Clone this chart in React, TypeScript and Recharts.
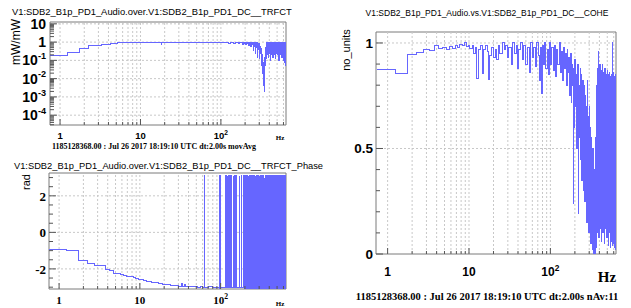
import React from 'react';
import { LineChart, Line, XAxis, YAxis, ReferenceLine, ReferenceArea } from 'recharts';

const BLUE = '#6666ff';
const GRID = '#c8c8c8';
const FRAME = '#7a7a7a';
const TICK = '#555';
const SANS = '"Liberation Sans", Arial, sans-serif';
const SERIF = '"Liberation Serif", "Times New Roman", serif';

// frequency ticks (Hz)
const xMajor = [1, 10, 100];
const xMinor = [2, 3, 4, 5, 6, 7, 8, 9, 20, 30, 40, 50, 60, 70, 80, 90, 200, 300, 400, 500, 600];
const xTicks = [...xMajor, ...xMinor].sort((a, b) => a - b);

// y ticks
const magMajor = [1e-4, 1e-3, 1e-2, 0.1, 1, 10];
const minorMult = [2, 3, 4, 5, 6, 7, 8, 9];
const phaseMajor = [-2, 0, 2];
const phaseMinor = [-3, -2.5, -1.5, -1, -0.5, 0.5, 1, 1.5, 2.5, 3];
const coheMajor = [0, 0.5, 1];
const coheMinor = [0.1, 0.2, 0.3, 0.4, 0.6, 0.7, 0.8, 0.9];

// 200..640 Hz, shared by the three panels
const hiFreq = [
  200, 204, 208, 212, 216, 220, 224, 228, 232, 236,
  240, 244, 248, 252, 256, 260, 264, 268, 272, 276,
  280, 284, 288, 292, 296, 300, 304, 308, 312, 316,
  320, 324, 328, 332, 336, 340, 344, 348, 352, 356,
  360, 364, 368, 372, 376, 380, 384, 388, 392, 396,
  400, 404, 408, 412, 416, 420, 424, 428, 432, 436,
  440, 444, 448, 452, 456, 460, 464, 468, 472, 476,
  480, 484, 488, 492, 496, 500, 504, 508, 512, 516,
  520, 524, 528, 532, 536, 540, 544, 548, 552, 556,
  560, 564, 568, 572, 576, 580, 584, 588, 592, 596,
  600, 604, 608, 612, 616, 620, 624, 628, 632, 636,
  640,
];

// transfer function magnitude (mW/mW)
const magFreqLo = [
  0.75, 1.25, 1.75, 2.25, 2.75, 3.25, 3.75, 4.25, 4.75, 5.25,
  5.75, 6.25, 6.75, 7.25, 7.75, 8.25, 8.75, 9.25, 9.75, 10.25,
  11, 12, 12.5, 13, 14, 15, 16, 17, 18, 18.5,
  19, 20, 22, 24, 26, 28, 30, 33, 36, 40,
  44, 48, 52, 56, 60, 65, 70, 75, 80, 85,
  90, 95, 100, 105, 110, 115, 120, 125, 130, 135,
  140, 145, 150, 155, 160, 165, 170, 175, 180, 185,
  190, 195,
];
const magLo = [
  0.18, 0.27, 0.46, 0.62, 0.64, 0.76, 0.78, 0.8, 0.82, 0.95,
  0.96, 0.95, 0.97, 0.98, 0.97, 0.99, 0.98, 1.0, 0.99, 1.0,
  0.99, 1.01, 0.92, 1.0, 0.98, 1.0, 0.99, 1.0, 0.74, 0.98,
  1.0, 0.99, 1.0, 0.97, 1.0, 0.98, 1.0, 0.96, 1.0, 0.98,
  1.0, 0.95, 1.0, 0.97, 0.99, 0.95, 1.0, 0.96, 0.99, 0.93,
  1.0, 0.97, 0.98, 0.9, 1.0, 0.94, 0.99, 0.88, 1.0, 0.93,
  0.97, 0.86, 1.0, 0.9, 0.96, 0.82, 1.0, 0.9, 0.95, 0.78,
  0.98, 0.88,
];
const magHi = [
  0.95, 0.7, 1.0, 0.85, 0.97, 0.65, 0.92, 0.85, 0.98, 0.55,
  0.9, 0.75, 0.96, 0.35, 0.88, 0.6, 0.93, 0.25, 0.85, 0.5,
  0.9, 0.15, 0.8, 0.4, 0.85, 0.12, 0.6, 0.25, 0.45, 0.08,
  0.3, 0.05, 0.2, 0.02, 0.08, 0.004, 0.002, 0.02, 0.15, 0.05,
  0.5, 0.12, 0.9, 0.2, 0.85, 0.3, 0.95, 0.15, 0.8, 0.35,
  0.92, 0.25, 0.88, 0.1, 0.95, 0.3, 0.85, 0.2, 0.9, 0.4,
  0.97, 0.15, 0.82, 0.3, 0.9, 0.22, 0.86, 0.35, 0.93, 0.12,
  0.8, 0.3, 0.9, 0.25, 0.85, 0.4, 0.95, 0.2, 0.82, 0.3,
  0.9, 0.1, 0.85, 0.35, 0.92, 0.25, 0.8, 0.3, 0.95, 0.2,
  0.88, 0.4, 0.9, 0.15, 0.85, 0.3, 0.93, 0.22, 0.8, 0.35,
  0.9, 0.1, 0.86, 0.3, 0.95, 0.08, 0.85, 0.25, 0.9, 0.05,
  0.85,
];

// transfer function phase (rad)
const phaseFreqLo = [
  0.75, 1.25, 1.75, 2.25, 2.75, 3.25, 3.75, 4.25, 4.75, 5.25,
  5.75, 6.25, 6.75, 7.25, 7.75, 8.25, 8.75, 9.25, 9.75, 10.25,
  11, 12, 13, 14, 15, 16, 17, 18, 19, 20,
  22, 24, 26, 28, 30, 33, 34, 36, 37, 40,
  44, 48, 52, 56, 60, 63, 63.5, 70, 80, 90,
  96, 96.5, 97, 97.5, 98, 98.5, 99, 99.5, 100, 101,
  116, 117, 120, 121, 125, 126, 130, 131, 136, 137,
  143, 144, 150, 151, 158, 159, 170, 171, 182, 183,
  190, 191, 196,
];
const phaseLo = [
  -0.96, -1.0, -1.56, -1.68, -1.81, -1.84, -2.02, -2.1, -2.24, -2.27,
  -2.31, -2.34, -2.39, -2.41, -2.44, -2.48, -2.5, -2.53, -2.57, -2.58,
  -2.62, -2.67, -2.7, -2.73, -2.75, -2.77, -2.8, -2.82, -2.83, -2.87,
  -2.85, -2.9, -2.92, -2.93, -2.95, -2.82, -2.95, -2.88, -2.97, -2.96,
  -2.98, -2.97, -3.0, -2.98, -3.0, 3.1, -3.0, -2.99, -3.01, -3.0,
  3.1, -3.05, 3.1, -3.0, 3.05, -3.05, 3.1, -3.0, 3.1, -3.0,
  3.1, -3.0, 3.05, -3.0, 3.1, -3.02, 3.1, -3.0, 3.1, -3.0,
  3.08, -3.0, 3.1, -3.02, 3.1, -3.0, 3.05, -3.0, 3.1, -3.0,
  3.1, -3.0, 3.1,
];
const phaseHi = [
  -3.05, 3.1, -3.08, 3.12, -3.1, 3.08, -3.05, 3.1, -3.1, 3.05,
  -3.08, 3.1, -3.05, 3.12, -3.1, 3.1, -3.06, 3.08, -3.1, 3.1,
  -3.05, 3.12, -3.08, 3.1, -3.1, 3.05, -3.06, 3.1, -3.1, 3.08,
  -3.05, 3.1, -3.08, 3.12, -1.5, 3.1, -3.06, 2.95, -3.1, 3.1,
  -3.04, 3.12, -3.08, 3.09, -3.1, 3.05, -3.07, 3.1, -3.1, 3.08,
  -3.05, 3.11, -3.08, 3.12, -3.09, 3.1, -3.06, 3.08, -3.1, 3.1,
  -3.05, 3.12, -3.07, 3.1, -3.1, 3.06, -3.06, 3.1, -3.09, 3.08,
  -3.05, 3.1, -3.08, 3.11, -3.1, 3.1, -3.06, 3.08, -3.1, 3.12,
  -3.04, 3.12, -3.08, 3.1, -3.1, 3.05, -3.06, 3.1, -3.1, 3.08,
  -3.05, 3.1, -3.08, 3.12, -3.1, 3.1, -3.06, 3.09, -3.1, 3.1,
  -3.05, 3.12, -3.08, 3.1, -3.1, 3.05, -3.06, 3.1, -3.1, 3.08,
  -3.05,
];

// coherence (no units)
const coheFreqLo = [
  0.75, 1.25, 1.75, 2.25, 2.75, 3.25, 3.75, 4.25, 4.75, 5.25,
  5.75, 6.25, 6.75, 7.25, 7.75, 8.25, 8.75, 9.25, 9.75, 10.25,
  11, 11.5, 12, 12.5, 13, 14, 14.5, 15, 16, 17,
  17.5, 18, 19, 20, 21, 22, 23, 24, 26, 27,
  28, 30, 31, 33, 34, 36, 38, 40, 41, 43,
  45, 47, 50, 52, 55, 57, 60, 62, 65, 68,
  71, 74, 75, 78, 79, 82, 85, 88, 91, 94,
  97, 100, 104, 108, 112, 116, 120, 124, 128, 132,
  136, 140, 144, 148, 152, 156, 160, 164, 168, 172,
  176, 180, 184, 188, 190, 192, 196,
];
const coheLo = [
  0.872, 0.856, 0.945, 0.955, 0.968, 0.965, 0.99, 0.975, 0.98, 0.97,
  0.985, 0.975, 0.99, 0.98, 0.995, 0.99, 1.0, 0.985, 0.99, 0.975,
  0.99, 0.95, 0.98, 0.83, 0.97, 0.99, 0.856, 0.97, 0.99, 0.96,
  0.825, 0.94, 0.98, 0.93, 0.97, 0.92, 0.99, 0.95, 1.0, 0.97,
  0.99, 0.93, 0.98, 0.9, 1.0, 0.95, 0.99, 0.88, 0.97, 1.0,
  0.92, 0.99, 0.9, 0.98, 0.86, 1.0, 0.93, 0.98, 0.89, 1.0,
  0.94, 0.82, 0.98, 0.76, 0.99, 0.9, 1.0, 0.88, 0.97, 0.85,
  1.0, 0.9, 0.98, 0.87, 0.99, 0.84, 0.97, 0.9, 1.0, 0.86,
  0.96, 0.82, 0.98, 0.88, 0.95, 0.8, 0.97, 0.86, 0.93, 0.75,
  0.95, 0.72, 0.9, 0.8, 0.24, 0.88, 0.6,
];
const coheHi = [
  0.92, 0.7, 0.85, 0.5, 0.9, 0.19, 0.8, 0.55, 0.88, 0.45,
  0.85, 0.35, 0.82, 0.6, 0.3, 0.8, 0.25, 0.75, 0.4, 0.7,
  0.15, 0.82, 0.2, 0.65, 0.1, 0.7, 0.12, 0.6, 0.05, 0.55,
  0.08, 0.45, 0.02, 0.5, 0.0, 0.4, 0.01, 0.35, 0.0, 0.55,
  0.03, 0.7, 0.05, 0.8, 0.1, 0.88, 0.15, 0.96, 0.08, 0.85,
  0.2, 0.9, 0.12, 0.82, 0.25, 0.87, 0.06, 0.8, 0.18, 0.9,
  0.1, 0.84, 0.22, 0.86, 0.15, 0.8, 0.05, 0.88, 0.2, 0.83,
  0.12, 0.85, 0.3, 0.8, 0.08, 0.87, 0.18, 0.82, 0.04, 0.85,
  0.15, 0.8, 0.1, 0.86, 0.2, 0.82, 0.03, 0.84, 0.12, 0.8,
  0.06, 0.85, 0.15, 1.0, 0.04, 0.83, 0.1, 0.82, 0.05, 0.86,
  0.12, 0.8, 0.03, 0.84, 0.08, 0.82, 0.02, 0.85, 0.1, 0.8,
  0.06,
];

const toRows = (f: number[], v: number[]) => f.map((x, i) => ({ f: x, v: v[i] }));
const magData = [...toRows(magFreqLo, magLo), ...toRows(hiFreq, magHi)];
const phaseData = [...toRows(phaseFreqLo, phaseLo), ...toRows(hiFreq, phaseHi)];
const coheData = [...toRows(coheFreqLo, coheLo), ...toRows(hiFreq, coheHi)];

const MAG_DOM: [number, number] = [2.9e-5, 12.6];
const magMinor = magMajor
  .flatMap((d) => minorMult.map((k) => k * d / 10))
  .filter((v) => v > MAG_DOM[0] && v < MAG_DOM[1]);

const XTick = (props: any) => {
  const { x, y, payload, fontFamily, fontSize, dy } = props;
  const v = payload.value;
  const major = xMajor.includes(v);
  return (
    <g>
      <line x1={x} x2={x} y1={y} y2={y - (major ? 6 : 3)} stroke={TICK} />
      {major && (
        <text x={x} y={y + dy} textAnchor="middle" fontFamily={fontFamily} fontSize={fontSize} fontWeight="bold" fill="#000">
          {v === 100 ? (
            <>
              <tspan>10</tspan>
              <tspan dy={-fontSize * 0.45} fontSize={fontSize * 0.7}>2</tspan>
            </>
          ) : String(v)}
        </text>
      )}
    </g>
  );
};

const YTick = (props: any) => {
  const { x, y, payload, fontFamily, fontSize, majors, kind, gap } = props;
  const v = payload.value;
  const major = majors.includes(v);
  let label: React.ReactNode = String(v);
  if (kind === 'log') {
    const e = Math.round(Math.log10(v));
    label = e === 0 ? '1' : e === 1 ? '10' : (
      <>
        <tspan>10</tspan>
        <tspan dy={-fontSize * 0.45} fontSize={fontSize * 0.65}>{String(e)}</tspan>
      </>
    );
  }
  return (
    <g>
      <line x1={x} x2={x + (major ? 7 : 4)} y1={y} y2={y} stroke={TICK} />
      {major && (
        <text x={x - gap} y={y + fontSize * 0.36} textAnchor="end" fontFamily={fontFamily} fontSize={fontSize} fontWeight="bold" fill="#000">
          {label}
        </text>
      )}
    </g>
  );
};

const vGrid = (vals: number[]) =>
  vals.map((v) => <ReferenceLine key={`vx${v}`} x={v} stroke={GRID} strokeDasharray="2 2" />);
const hGrid = (vals: number[]) =>
  vals.map((v) => <ReferenceLine key={`hy${v}`} y={v} stroke={GRID} strokeDasharray="2 2" />);

export default function App() {
  return (
    <div style={{ position: 'fixed', left: 0, top: 0, width: 631, height: 308, background: '#fff', overflow: 'hidden' }}>
      {/* magnitude */}
      <div style={{ position: 'absolute', left: 0, top: 0 }}>
        <LineChart width={300} height={150} data={magData} margin={{ top: 22, right: 14, bottom: 0, left: 0 }}>
          <XAxis dataKey="f" type="number" scale="log" domain={[0.75, 645]} allowDataOverflow ticks={xTicks} interval={0}
            height={25} tickSize={0} tickMargin={0} axisLine={false} tickLine={false}
            tick={<XTick fontFamily={SANS} fontSize={9.5} dy={14} />} />
          <YAxis type="number" scale="log" domain={MAG_DOM} allowDataOverflow ticks={[...magMajor, ...magMinor].sort((a, b) => a - b)}
            interval={0} width={50} tickSize={0} tickMargin={0} axisLine={false} tickLine={false}
            tick={<YTick fontFamily={SANS} fontSize={14} majors={magMajor} kind="log" gap={4} />} />
          {vGrid(xTicks)}
          {hGrid(magMajor)}
          <Line dataKey="v" type="stepAfter" stroke={BLUE} strokeWidth={1} shapeRendering="crispEdges" dot={false} isAnimationActive={false} />
          <ReferenceArea x1={0.75} x2={645} y1={MAG_DOM[0]} y2={MAG_DOM[1]} fill="none" stroke={FRAME} ifOverflow="visible" />
        </LineChart>
      </div>

      {/* phase */}
      <div style={{ position: 'absolute', left: 0, top: 150 }}>
        <LineChart width={300} height={158} data={phaseData} margin={{ top: 23, right: 14, bottom: 0, left: 0 }}>
          <XAxis dataKey="f" type="number" scale="log" domain={[0.75, 645]} allowDataOverflow ticks={xTicks} interval={0}
            height={19} tickSize={0} tickMargin={0} axisLine={false} tickLine={false}
            tick={<XTick fontFamily={SERIF} fontSize={11} dy={15} />} />
          <YAxis type="number" domain={[-3.1, 3.25]} allowDataOverflow ticks={[...phaseMajor, ...phaseMinor].sort((a, b) => a - b)}
            interval={0} width={49} tickSize={0} tickMargin={0} axisLine={false} tickLine={false}
            tick={<YTick fontFamily={SERIF} fontSize={13} majors={phaseMajor} kind="lin" gap={3} />} />
          {vGrid(xTicks)}
          {hGrid(phaseMajor)}
          <Line dataKey="v" type="stepAfter" stroke={BLUE} strokeWidth={1} shapeRendering="crispEdges" dot={false} isAnimationActive={false} />
          <ReferenceArea x1={0.75} x2={645} y1={-3.1} y2={3.25} fill="none" stroke={FRAME} ifOverflow="visible" />
        </LineChart>
      </div>

      {/* coherence */}
      <div style={{ position: 'absolute', left: 320, top: 0 }}>
        <LineChart width={311} height={308} data={coheData} margin={{ top: 32, right: 15, bottom: 0, left: 0 }}>
          <XAxis dataKey="f" type="number" scale="log" domain={[0.72, 640]} allowDataOverflow ticks={xTicks} interval={0}
            height={54} tickSize={0} tickMargin={0} axisLine={false} tickLine={false}
            tick={<XTick fontFamily={SANS} fontSize={12} dy={22} />} />
          <YAxis type="number" domain={[0, 1.052]} allowDataOverflow ticks={[...coheMajor, ...coheMinor].sort((a, b) => a - b)}
            interval={0} width={56} tickSize={0} tickMargin={0} axisLine={false} tickLine={false}
            tick={<YTick fontFamily={SANS} fontSize={13.5} majors={coheMajor} kind="lin" gap={3} />} />
          {vGrid(xTicks)}
          {hGrid([0.5, 1])}
          <Line dataKey="v" type="stepAfter" stroke={BLUE} strokeWidth={1} shapeRendering="crispEdges" dot={false} isAnimationActive={false} />
          <ReferenceArea x1={0.72} x2={640} y1={0} y2={1.052} fill="none" stroke={FRAME} ifOverflow="visible" />
        </LineChart>
      </div>

      {/* titles and captions */}
      <svg width={631} height={308} style={{ position: 'absolute', left: 0, top: 0, pointerEvents: 'none' }}>
        <text x={12} y={14.5} fontFamily={SANS} fontSize={9.4} fill="#000">V1:SDB2_B1p_PD1_Audio.over.V1:SDB2_B1p_PD1_DC__TRFCT</text>
        <text transform="translate(20,42) rotate(-90)" textAnchor="middle" fontFamily={SANS} fontSize={12} fill="#000">mW/mW</text>
        <text x={280} y={140} textAnchor="middle" fontFamily={SERIF} fontWeight="bold" fontSize={7} fill="#000">Hz</text>
        <text x={154} y={148.5} textAnchor="middle" fontFamily={SERIF} fontWeight="bold" fontSize={8} fill="#000">1185128368.00 : Jul 26 2017 18:19:10 UTC dt:2.00s movAvg</text>

        <text x={14} y={168.5} fontFamily={SANS} fontSize={9.3} fill="#000">V1:SDB2_B1p_PD1_Audio.over.V1:SDB2_B1p_PD1_DC__TRFCT_Phase</text>
        <text transform="translate(30,182) rotate(-90)" textAnchor="middle" fontFamily={SANS} fontSize={11} fill="#000">rad</text>
        <text x={280} y={306} textAnchor="middle" fontFamily={SERIF} fontWeight="bold" fontSize={7} fill="#000">Hz</text>

        <text x={487} y={16} textAnchor="middle" fontFamily={SANS} fontSize={8.5} fill="#000">V1:SDB2_B1p_PD1_Audio.vs.V1:SDB2_B1p_PD1_DC__COHE</text>
        <text transform="translate(350,50) rotate(-90)" textAnchor="middle" fontFamily={SANS} fontSize={11} fill="#000">no_units</text>
        <text x={607} y={282} textAnchor="middle" fontFamily={SERIF} fontWeight="bold" fontSize={15} fill="#000">Hz</text>
        <text x={487} y={299.5} textAnchor="middle" fontFamily={SERIF} fontWeight="bold" fontSize={10.5} fill="#000">1185128368.00 : Jul 26 2017 18:19:10 UTC dt:2.00s nAv:11</text>
      </svg>
    </div>
  );
}
